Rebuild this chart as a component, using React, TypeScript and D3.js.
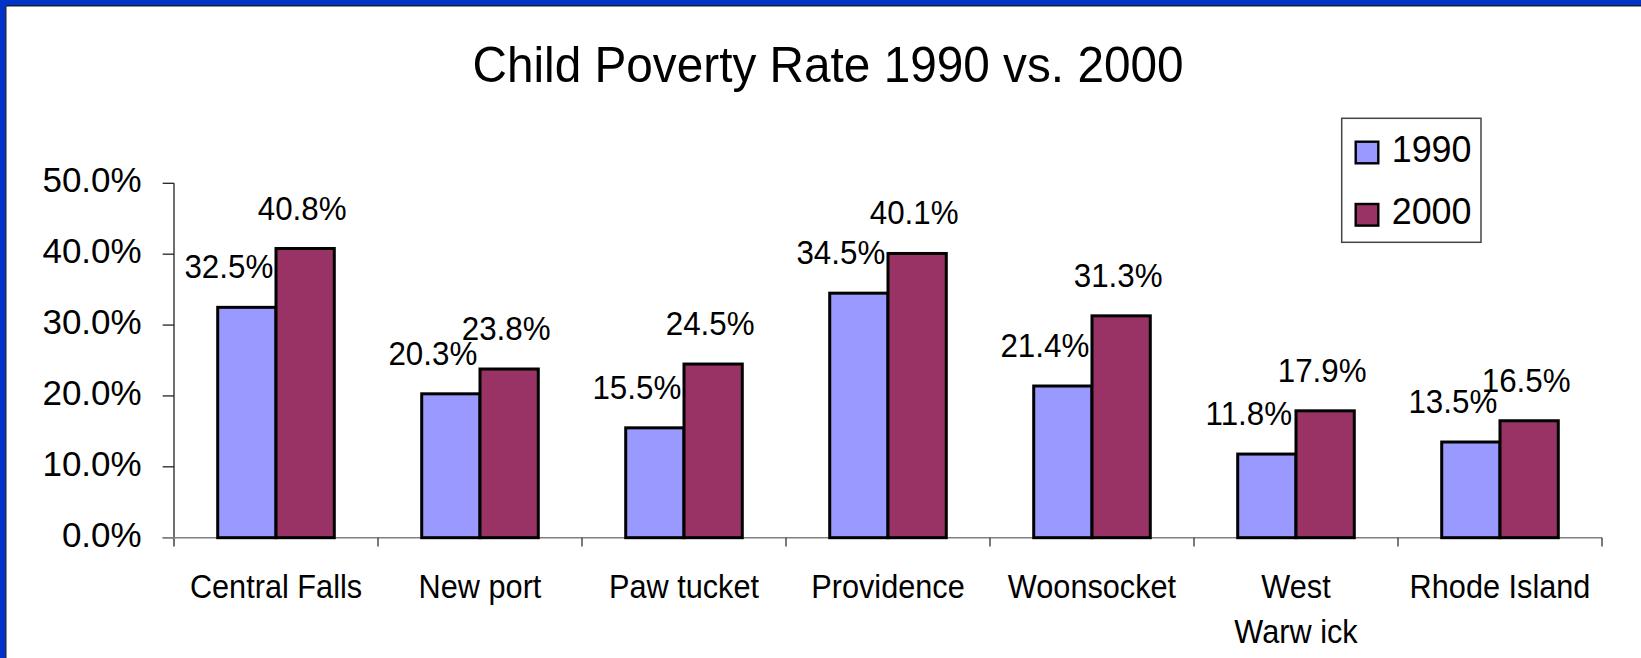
import React from "react";
import * as d3 from "d3";

const categories = ["Central Falls", "New port", "Paw tucket", "Providence", "Woonsocket", "West\nWarw ick", "Rhode Island"];
const seriesNames = ["1990", "2000"];
const values1990 = [32.5, 20.3, 15.5, 34.5, 21.4, 11.8, 13.5];
const values2000 = [40.8, 23.8, 24.5, 40.1, 31.3, 17.9, 16.5];
const yTicks = [0, 10, 20, 30, 40, 50];
const title = "Child Poverty Rate 1990 vs. 2000";

const W = 1641;
const H = 658;
const FONT = "'Liberation Sans', Arial, Helvetica, sans-serif";
const colors = ["#9999FF", "#993366"];
const labelDx = [-18, -3];

export default function App() {
  const x0 = d3.scaleBand<string>().domain(categories).range([174, 1602]).padding(0);
  const bw = x0.bandwidth();
  const barW = bw / 3.5;
  const x1 = d3
    .scaleBand<string>()
    .domain(seriesNames)
    .range([barW * 0.75, barW * 0.75 + barW * 2])
    .padding(0);
  const y = d3.scaleLinear().domain([0, 50]).range([537.7, 183.3]);
  const fmt = d3.format(".1%");
  const series = [values1990, values2000];

  return (
    <svg
      width={W}
      height={H}
      style={{ position: "absolute", left: 0, top: 0, background: "#fff" }}
      fontFamily={FONT}
    >
      <rect x={0} y={0} width={W} height={H} fill="#fff" />
      {/* frame */}
      <rect x={0} y={0} width={W} height={5.2} fill="#0033CC" />
      <rect x={0} y={0} width={5.2} height={H} fill="#0033CC" />
      <line x1={5.5} y1={5.8} x2={W} y2={5.8} stroke="#1a1a2e" strokeWidth={1.4} />
      <line x1={5.8} y1={5.5} x2={5.8} y2={H} stroke="#1a1a2e" strokeWidth={1.4} />

      {/* title */}
      <text
        transform={`translate(828,81.7) scale(0.955,1)`}
        textAnchor="middle"
        fontSize={50}
        fill="#000"
      >
        {title}
      </text>

      {/* y axis */}
      <line x1={174} y1={y(50)} x2={174} y2={546.5} stroke="#222" strokeWidth={1.3} />
      {yTicks.map((t) => (
        <g key={t}>
          <line x1={162.7} x2={174} y1={y(t)} y2={y(t)} stroke="#222" strokeWidth={1.3} />
          <text x={141.7} y={y(t) + 9} textAnchor="end" fontSize={35} fill="#000">
            {fmt(t / 100)}
          </text>
        </g>
      ))}

      {/* x axis */}
      <line x1={162.7} x2={1602} y1={y(0)} y2={y(0)} stroke="#808080" strokeWidth={1.5} />
      {categories.map((c, i) => (
        <line
          key={"t" + i}
          x1={(x0(c) as number) + bw}
          x2={(x0(c) as number) + bw}
          y1={y(0)}
          y2={546.5}
          stroke="#333"
          strokeWidth={1.3}
        />
      ))}

      {/* bars */}
      {categories.map((c, i) => (
        <g key={c} transform={`translate(${x0(c)},0)`}>
          {seriesNames.map((s, si) => {
            const v = series[si][i];
            return (
              <rect
                key={s}
                x={x1(s)}
                y={y(v)}
                width={x1.bandwidth()}
                height={y(0) - y(v)}
                fill={colors[si]}
                stroke="#000"
                strokeWidth={3}
              />
            );
          })}
        </g>
      ))}

      {/* data labels */}
      {categories.map((c, i) =>
        seriesNames.map((s, si) => {
          const v = series[si][i];
          const cx = (x0(c) as number) + (x1(s) as number) + x1.bandwidth() / 2 + labelDx[si];
          return (
            <text
              key={c + s}
              transform={`translate(${cx},${y(v) - 29}) scale(0.95,1)`}
              textAnchor="middle"
              fontSize={33}
              fill="#000"
            >
              {fmt(v / 100)}
            </text>
          );
        })
      )}

      {/* category labels */}
      {categories.map((c) => {
        const cx = (x0(c) as number) + bw / 2;
        const lines = c.split("\n");
        return (
          <g key={"l" + c}>
            {lines.map((ln, li) => (
              <text
                key={li}
                transform={`translate(${cx},${597.7 + li * 44.8}) scale(0.93,1)`}
                textAnchor="middle"
                fontSize={33}
                fill="#000"
              >
                {ln}
              </text>
            ))}
          </g>
        );
      })}

      {/* legend */}
      <rect x={1341.7} y={118.3} width={139.3} height={124} fill="#fff" stroke="#444" strokeWidth={1.5} />
      {seriesNames.map((s, si) => (
        <g key={"lg" + s}>
          <rect
            x={1355.7}
            y={141.7 + si * 62.3}
            width={22.6}
            height={21.6}
            fill={colors[si]}
            stroke="#000"
            strokeWidth={2.4}
          />
          <text
            transform={`translate(1391.7,${161.7 + si * 62.3}) scale(0.97,1)`}
            fontSize={37}
            fill="#000"
          >
            {s}
          </text>
        </g>
      ))}
    </svg>
  );
}
